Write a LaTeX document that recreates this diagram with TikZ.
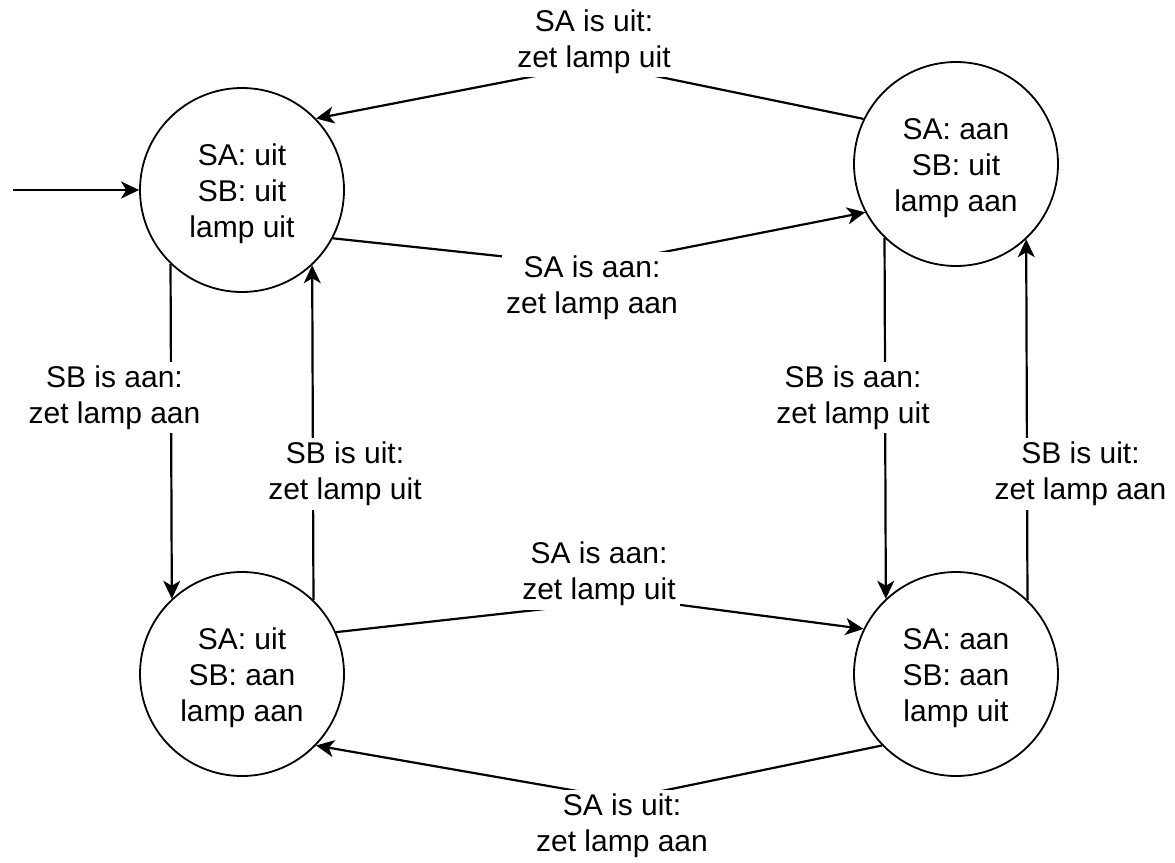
\documentclass[tikz,border=0pt]{standalone}
\usepackage{fontspec}
\setmainfont{Liberation Sans}
\usetikzlibrary{arrows.meta}
\begin{document}
\begin{tikzpicture}[x=1pt,y=-1pt,
  state/.style={circle, draw, line width=1.8pt, minimum size=204pt, inner sep=0pt,
    align=center, text height=102pt, font=\fontsize{30}{36}\selectfont},
  edge/.style={line width=2.2pt, -{Stealth[length=18pt,width=17pt,inset=5pt]}},
  lbl/.style={fill=white, align=center, inner sep=4pt, font=\fontsize{30}{36}\selectfont}]
\useasboundingbox (0,0) rectangle (1175,862);

% states
\node[state] (TL) at (242,190) {SA: uit\\SB: uit\\lamp uit};
\node[state] (TR) at (956,164) {SA: aan\\SB: uit\\lamp aan};
\node[state] (BL) at (242,674) {SA: uit\\SB: aan\\lamp aan};
\node[state] (BR) at (956,674) {SA: aan\\SB: aan\\lamp uit};

% initial arrow
\coordinate (start) at (13,190);
\draw[edge] (start) -- (TL);

% waypoints
\coordinate (w1) at (597,64);
\coordinate (w2) at (593,266);
\coordinate (w7) at (635,599);
\coordinate (w8) at (623,799);

% horizontal-ish transitions
\draw[edge] (TR.154.8) -- (w1) -- (TL.44.5);
\draw[edge] (TL.332.6) -- (w2) -- (TR.208.7);
\draw[edge] (BL.24) -- (w7) -- (BR.154.4);
\draw[edge] (BR.224.1) -- (w8) -- (BL.316);

% vertical transitions
\draw[edge] (TL.226.4) -- (BL.133.6);
\draw[edge] (BL.46.4) -- (TL.313.6);
\draw[edge] (TR.226.4) -- (BR.133.6);
\draw[edge] (BR.46.4) -- (TR.313.6);

% labels
\node[lbl] (l1) at (594,41.5) {SA is uit:\\zet lamp uit};
\node[lbl] (l2) at (592,288) {SA is aan:\\zet lamp aan};
\node[lbl] (l3) at (114.5,397.5) {SB is aan:\\zet lamp aan};
\node[lbl] (l4) at (345,474) {SB is uit:\\zet lamp uit};
\node[lbl] (l5) at (853,397.5) {SB is aan:\\zet lamp uit};
\node[lbl] (l6) at (1080.5,474) {SB is uit:\\zet lamp aan};
\node[lbl] (l7) at (599,574) {SA is aan:\\zet lamp uit};
\node[lbl] (l8) at (622,826) {SA is uit:\\zet lamp aan};
\end{tikzpicture}
\end{document}
